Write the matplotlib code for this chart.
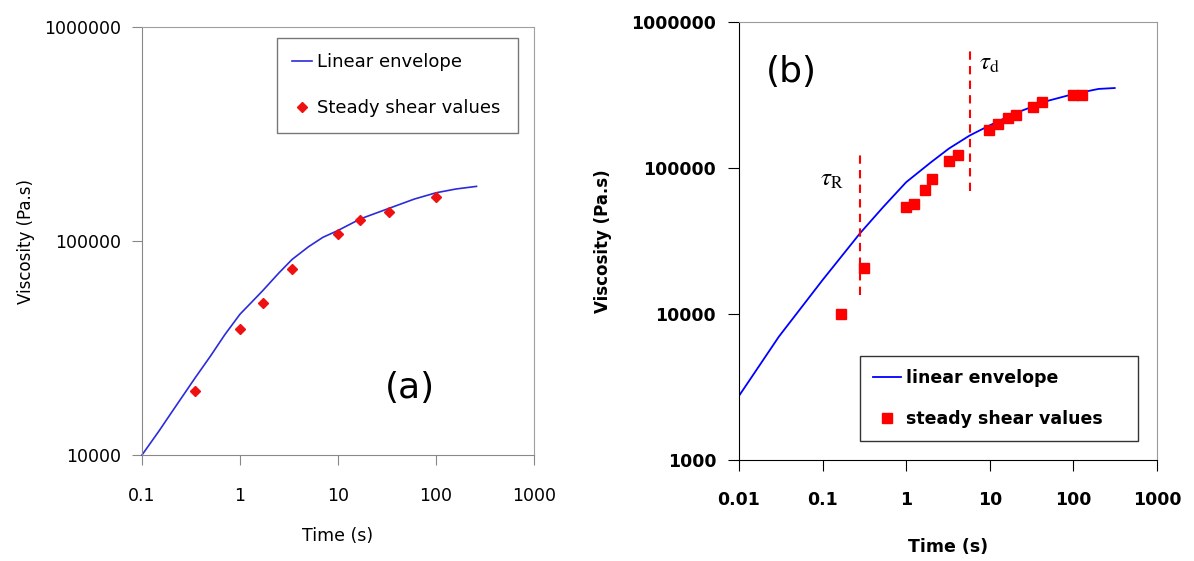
import numpy as np
import matplotlib
matplotlib.use("Agg")
import matplotlib.pyplot as plt

plt.rcParams['font.family'] = ['DejaVu Sans']
plt.rcParams['mathtext.fontset'] = 'stix'

# ---- panel (a) ----
t_env_a = [0.1, 0.15, 0.2, 0.35, 0.5, 0.7, 1, 1.3, 1.7, 2.5, 3.4, 5, 7, 10, 17, 33, 60, 100, 160, 259]
eta_env_a = [10000, 13000, 15800, 23000, 29000, 36500, 45500, 51500, 58500, 71000, 82000,
             94000, 104000, 112000, 127000, 142000, 157000, 168000, 175000, 180000]
t_ss_a = [0.344, 1, 1.7, 3.4, 10, 16.8, 33, 100]
eta_ss_a = [20000, 38900, 51400, 74000, 108000, 126000, 137000, 161000]
xticks_a = [0.1, 1, 10, 100, 1000]
xlabels_a = ['0.1', '1', '10', '100', '1000']
yticks_a = [10000, 100000, 1000000]

# ---- panel (b) ----
t_env_b = [0.01, 0.03, 0.1, 0.28, 0.53, 1, 2, 3.25, 5.75, 10, 20, 50, 100, 200, 312]
eta_env_b = [2750, 7000, 17100, 35700, 54000, 80000, 110000, 136000, 167000, 196000,
             237000, 289000, 321000, 348000, 353000]
t_ss_b = [0.166, 0.313, 1.0, 1.24, 1.67, 2.04, 3.25, 4.19, 9.87, 12.5, 16.3, 20.5, 33, 41.7, 100, 125]
eta_ss_b = [10000, 20800, 53700, 57100, 70400, 83700, 111000, 122000, 182000, 199000,
            219000, 231000, 263000, 283000, 316000, 316000]
tau_R = 0.281
tau_R_span = [13500, 132000]
tau_d = 5.75
tau_d_span = [69300, 686000]
xticks_b = [0.01, 0.1, 1, 10, 100, 1000]
xlabels_b = ['0.01', '0.1', '1', '10', '100', '1000']
yticks_b = [1000, 10000, 100000, 1000000]

fig = plt.figure(figsize=(11.94, 5.61), dpi=100)

# ================= (a) =================
ax1 = fig.add_axes([142/1194, 1-455/561, 392/1194, 428/561])
ax1.plot(t_env_a, eta_env_a, color='#2b2bdb', lw=1.2, label='Linear envelope', clip_on=False)
ax1.plot(t_ss_a, eta_ss_a, 'D', color='#ee1111', ms=5.5, ls='none', label='Steady shear values')
ax1.set_xscale('log')
ax1.set_yscale('log')
ax1.set_xlim(0.1, 1000)
ax1.set_ylim(10000, 1000000)
ax1.set_xticks(xticks_a, xlabels_a)
ax1.set_yticks(yticks_a, [str(v) for v in yticks_a])
ax1.minorticks_off()
for s in ax1.spines.values():
    s.set_color('#a0a0a0')
ax1.spines['left'].set_color('#888888')
ax1.spines['bottom'].set_color('#888888')
ax1.tick_params(axis='x', direction='out', length=7, color='#888888', pad=16, labelsize=12.5)
ax1.tick_params(axis='y', direction='out', length=7, color='#888888', pad=8, labelsize=12.5)
ax1.set_xlabel('Time (s)', fontsize=12.5)
ax1.xaxis.set_label_coords(0.5, -72/428)
ax1.set_ylabel('Viscosity (Pa.s)', fontsize=12)
ax1.yaxis.set_label_coords(-107/392, 0.5)
leg1 = ax1.legend(loc='upper left', bbox_to_anchor=(0.344, 0.0, 0.615, 0.974), mode='expand',
                  borderaxespad=0, fancybox=False, edgecolor='#555555', fontsize=13,
                  labelspacing=1.55, borderpad=0.85, handlelength=1.1, handletextpad=0.3)
leg1.get_frame().set_linewidth(1.0)
ax1.text(54, 20500, '(a)', fontsize=26, ha='center', va='center')

# ================= (b) =================
ax2 = fig.add_axes([739/1194, 1-460/561, 418/1194, 438/561])
ax2.plot(t_env_b, eta_env_b, color='#0000ff', lw=1.3, label='linear envelope')
ax2.plot(t_ss_b, eta_ss_b, 's', color='#ff0000', ms=7, ls='none', label='steady shear values')
ax2.vlines([tau_R], tau_R_span[0], tau_R_span[1], colors='#ff0000', linestyles=(0, (4, 3)), lw=1.5)
ax2.vlines([tau_d], tau_d_span[0], tau_d_span[1], colors='#ff0000', linestyles=(0, (4, 3)), lw=1.5)
ax2.set_xscale('log')
ax2.set_yscale('log')
ax2.set_xlim(0.01, 1000)
ax2.set_ylim(1000, 1000000)
ax2.set_xticks(xticks_b, xlabels_b)
ax2.set_yticks(yticks_b, [str(v) for v in yticks_b])
ax2.minorticks_off()
ax2.spines['top'].set_color('#9a9a9a')
ax2.spines['right'].set_color('#9a9a9a')
ax2.spines['left'].set_color('black')
ax2.spines['bottom'].set_color('black')
ax2.tick_params(axis='x', direction='out', length=8, pad=14.5, labelsize=12.5)
ax2.tick_params(axis='y', direction='out', length=8, pad=8.5, labelsize=12.5)
for lab in ax2.get_xticklabels() + ax2.get_yticklabels():
    lab.set_fontweight('bold')
ax2.set_xlabel('Time (s)', fontsize=12.5, fontweight='bold')
ax2.xaxis.set_label_coords(0.5, -78/438)
ax2.set_ylabel('Viscosity (Pa.s)', fontsize=12, fontweight='bold')
ax2.yaxis.set_label_coords(-127/418, 0.5)
leg2 = ax2.legend(loc='upper left', bbox_to_anchor=(0.289, 0.0, 0.666, 0.237), mode='expand',
                  borderaxespad=0, fancybox=False, edgecolor='black',
                  labelspacing=1.3, borderpad=0.75, handlelength=1.6, handletextpad=0.3,
                  prop={'weight': 'bold', 'size': 12.5})
leg2.get_frame().set_linewidth(1.0)
ax2.text(0.042, 452000, '(b)', fontsize=26, ha='center', va='center')
ax2.text(0.13, 84500, r'$\tau_{\mathrm{R}}$', fontsize=18, ha='center', va='center')
ax2.text(10, 520000, r'$\tau_{\mathrm{d}}$', fontsize=18, ha='center', va='center')

fig.savefig('out.png', dpi=100)
